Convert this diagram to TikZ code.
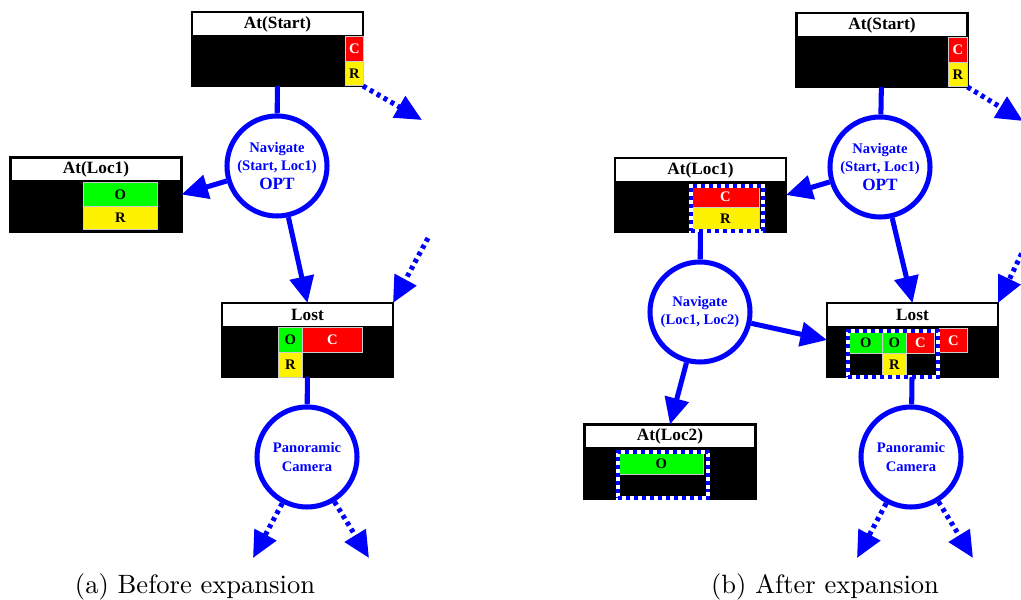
\documentclass[tikz,border=0pt]{standalone}
\usepackage{fontspec}
\newfontfamily\tmsfont{Liberation Serif}
\usetikzlibrary{
  arrows.meta,
  positioning,
  shapes
}
\newcommand{\pxu}{0.377pt}

\tikzset{
  cond/.style={draw=black,fill=black,line width=0.8pt,minimum width=171*\pxu,
    minimum height=74*\pxu,inner sep=0pt,outer sep=0pt},
  hdr/.style={draw=black,fill=white,line width=0.8pt,minimum width=171*\pxu,
    minimum height=24*\pxu,inner sep=0pt,outer sep=0pt,anchor=north,
    font=\tmsfont\bfseries\fontsize{6.5}{7}\selectfont},
  cell/.style={draw=white!80!black,line width=0.3pt,anchor=north west,inner sep=0pt,
    minimum height=23*\pxu,font=\tmsfont\bfseries\fontsize{5.5}{6}\selectfont},
  cc/.style={cell,fill=red,text=white},
  oo/.style={cell,fill=green},
  rr/.style={cell,fill=yellow},
  act/.style={circle,draw=blue,line width=1.9pt,minimum size=100*\pxu,inner sep=0pt,
    align=center,text=blue,font=\tmsfont\bfseries\fontsize{5.5}{7}\selectfont},
  grp/.style={draw=blue,line width=1.5pt,dash pattern=on 1.5pt off 1.5pt,
    preaction={draw=white,solid},anchor=north west,inner sep=0pt},
  link/.style={blue,line width=1.9pt},
  more/.style={link,dash pattern=on 1.5pt off 1.5pt},
  >={Triangle[length=10pt,width=9pt]}
}

\begin{document}
\begin{tikzpicture}[x=\pxu,y=-\pxu]
  \clip (0,0) rectangle (1021,600);

  % (a) before expansion
  \node[cond] (startA) at (277.5,49) {};
  \node[hdr] (startAh) at (startA.north) {At(Start)};
  \node[cc,minimum width=18*\pxu,minimum height=25*\pxu] (startAc) at (345,36) {C};
  \node[rr,minimum width=18*\pxu,minimum height=24*\pxu] (startAr) at (345,61) {R};

  \node[act] (navA) at (277,166) {Navigate\\(Start, Loc1)\\{\fontsize{6.5}{8}\selectfont OPT}};

  \node[cond] (loc1A) at (96,194.5) {};
  \node[hdr] (loc1Ah) at (loc1A.north) {At(Loc1)};
  \node[oo,minimum width=74*\pxu,minimum height=24*\pxu] (loc1Ao) at (83,182) {O};
  \node[rr,minimum width=74*\pxu,minimum height=23*\pxu] (loc1Ar) at (83,206) {R};

  \node[cond] (lostA) at (307.5,340) {};
  \node[hdr] (lostAh) at (lostA.north) {Lost};
  \node[oo,minimum width=24*\pxu,minimum height=25*\pxu] (lostAo) at (278,327) {O};
  \node[cc,minimum width=60*\pxu,minimum height=25*\pxu] (lostAc) at (302,327) {C};
  \node[rr,minimum width=24*\pxu,minimum height=25*\pxu] (lostAr) at (278,352) {R};

  \node[act] (panoA) at (307,457) {Panoramic\\Camera};

  \coordinate (ta) at (422,120);
  \coordinate (fa) at (428,238);
  \coordinate (pa1) at (253,558);
  \coordinate (pa2) at (369,558);

  \draw[link] (startA) -- (navA);
  \draw[link,->] (navA) -- (loc1A.east);
  \draw[link,->] (navA) -- (lostA.north);
  \draw[link] (lostA) -- (panoA);
  \draw[more,->] (startA.south east) -- (ta);
  \draw[more,->] (fa) -- (lostA.north east);
  \draw[more,->] (panoA) -- (pa1);
  \draw[more,->] (panoA) -- (pa2);

  \node (capA) at (195,587) {(a) Before expansion};

  % (b) after expansion
  \node[cond] (startB) at (882,50) {};
  \node[hdr] (startBh) at (startB.north) {At(Start)};
  \node[cc,minimum width=19*\pxu,minimum height=25*\pxu] (startBc) at (948,37) {C};
  \node[rr,minimum width=19*\pxu,minimum height=24*\pxu] (startBr) at (948,62) {R};

  \node[act] (navB) at (880,167) {Navigate\\(Start, Loc1)\\{\fontsize{6.5}{8}\selectfont OPT}};

  \node[cond] (loc1B) at (700.5,195) {};
  \node[hdr] (loc1Bh) at (loc1B.north) {At(Loc1)};
  \node[cc,minimum width=68*\pxu,minimum height=22*\pxu] (loc1Bc) at (691,185) {C};
  \node[rr,minimum width=68*\pxu,minimum height=22*\pxu] (loc1Br) at (691,207) {R};
  \node[grp,minimum width=72*\pxu,minimum height=45*\pxu] (loc1Bg) at (689,184) {};

  \node[act] (nav2B) at (700,312) {Navigate\\(Loc1, Loc2)};

  \node[cond] (loc2B) at (670,461.5) {};
  \node[hdr] (loc2Bh) at (loc2B.north) {At(Loc2)};
  \node[oo,minimum width=84*\pxu,minimum height=22*\pxu] (loc2Bo) at (619,452) {O};
  \node[grp,minimum width=90*\pxu,minimum height=46*\pxu] (loc2Bg) at (616,450) {};

  \node[cond] (lostB) at (912.5,340) {};
  \node[hdr] (lostBh) at (lostB.north) {Lost};
  \node[oo,minimum width=33*\pxu,minimum height=22*\pxu] (lostBo1) at (849,331) {O};
  \node[oo,minimum width=24*\pxu,minimum height=22*\pxu] (lostBo2) at (882,331) {O};
  \node[cc,minimum width=28*\pxu,minimum height=22*\pxu] (lostBc1) at (906,331) {C};
  \node[rr,minimum width=24*\pxu,minimum height=22*\pxu] (lostBr) at (882,353) {R};
  \node[cc,minimum width=28*\pxu,minimum height=24*\pxu] (lostBc2) at (939,328) {C};
  \node[grp,minimum width=90*\pxu,minimum height=46*\pxu] (lostBg) at (846,329) {};

  \node[act] (panoB) at (911,457) {Panoramic\\Camera};

  \coordinate (tb) at (1023,121);
  \coordinate (fb) at (1032,232);
  \coordinate (pb1) at (857,558);
  \coordinate (pb2) at (973,558);

  \draw[link] (startB) -- (navB);
  \draw[link,->] (navB) -- (loc1B.east);
  \draw[link,->] (navB) -- (lostB.north);
  \draw[link] (loc1B) -- (nav2B);
  \draw[link,->] (nav2B) -- (lostB.west);
  \draw[link,->] (nav2B) -- (loc2B.north);
  \draw[link] (lostB) -- (panoB);
  \draw[more,->] (startB.south east) -- (tb);
  \draw[more,->] (fb) -- (lostB.north east);
  \draw[more,->] (panoB) -- (pb1);
  \draw[more,->] (panoB) -- (pb2);

  \node (capB) at (825,587) {(b) After expansion};
\end{tikzpicture}
\end{document}
